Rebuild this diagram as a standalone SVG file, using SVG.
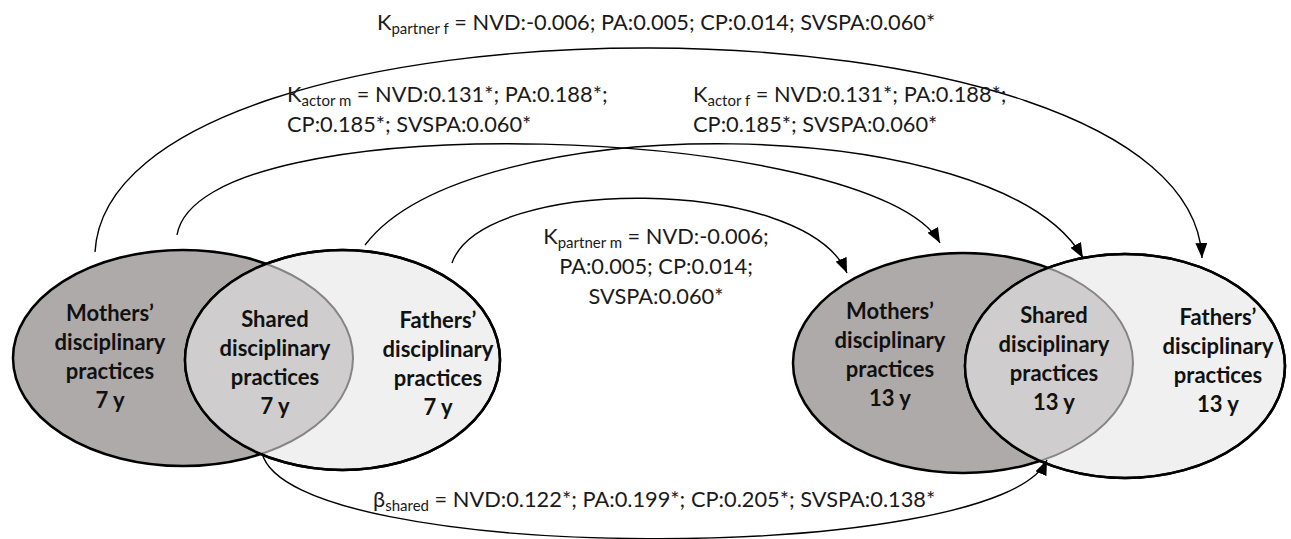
<svg xmlns="http://www.w3.org/2000/svg" xmlns:xlink="http://www.w3.org/1999/xlink" width="1291" height="539" viewBox="0 0 1291 539">
<style>
.lbl{font-family:Lato,"Liberation Sans",sans-serif;font-size:21.8px;fill:#1a1a1a}
.sub{font-size:15px}
.node{font-family:Lato,"Liberation Sans",sans-serif;font-size:22px;font-weight:bold;fill:#111;text-anchor:middle}
.mom{fill:#aeaaaa;stroke:#000;stroke-width:2.5}
.dad{fill:#f0f0f0;stroke:#000;stroke-width:2.5}
.shr{fill:#cfcdcd;stroke:#858585;stroke-width:2}
.outl{fill:none;stroke:#000;stroke-width:2.5}
.con{fill:none;stroke:#000;stroke-width:1.4;marker-end:url(#arr)}
</style>
<defs>
<marker id="arr" markerUnits="userSpaceOnUse" markerWidth="16" markerHeight="12" refX="15" refY="6" orient="auto">
<path d="M0,0 L15,6 L0,12 z" fill="#000"/>
</marker>
<ellipse id="m7" cx="183" cy="358" rx="170" ry="108"/>
<ellipse id="f7" cx="342.5" cy="360" rx="157.5" ry="110"/>
<ellipse id="m13" cx="963" cy="363" rx="170" ry="110"/>
<ellipse id="f13" cx="1125" cy="366" rx="160" ry="112"/>
<clipPath id="cf7"><use xlink:href="#f7"/></clipPath>
<clipPath id="cf13"><use xlink:href="#f13"/></clipPath>
</defs>
<rect width="1291" height="539" fill="#fff"/>

<g id="mothers-7y">
<use xlink:href="#m7" class="mom"/>
<text class="node" x="110"><tspan x="110" y="321">Mothers’</tspan><tspan x="110" y="350">disciplinary</tspan><tspan x="110" y="379">practices</tspan><tspan x="110" y="408">7 y</tspan></text>
</g>
<g id="fathers-7y">
<use xlink:href="#f7" class="dad"/>
<text class="node" x="438"><tspan x="438" y="328">Fathers’</tspan><tspan x="438" y="357">disciplinary</tspan><tspan x="438" y="386">practices</tspan><tspan x="438" y="415">7 y</tspan></text>
</g>
<g id="shared-7y">
<use xlink:href="#m7" class="shr" clip-path="url(#cf7)"/>
<use xlink:href="#f7" class="outl"/>
<text class="node" x="275"><tspan x="275" y="327">Shared</tspan><tspan x="275" y="356">disciplinary</tspan><tspan x="275" y="385">practices</tspan><tspan x="275" y="414">7 y</tspan></text>
</g>

<g id="mothers-13y">
<use xlink:href="#m13" class="mom"/>
<text class="node" x="890"><tspan x="890" y="319">Mothers’</tspan><tspan x="890" y="348">disciplinary</tspan><tspan x="890" y="377">practices</tspan><tspan x="890" y="406">13 y</tspan></text>
</g>
<g id="fathers-13y">
<use xlink:href="#f13" class="dad"/>
<text class="node" x="1218"><tspan x="1218" y="325">Fathers’</tspan><tspan x="1218" y="354">disciplinary</tspan><tspan x="1218" y="383">practices</tspan><tspan x="1218" y="412">13 y</tspan></text>
</g>
<g id="shared-13y">
<use xlink:href="#m13" class="shr" clip-path="url(#cf13)"/>
<use xlink:href="#f13" class="outl"/>
<text class="node" x="1054"><tspan x="1054" y="323">Shared</tspan><tspan x="1054" y="352">disciplinary</tspan><tspan x="1054" y="381">practices</tspan><tspan x="1054" y="410">13 y</tspan></text>
</g>

<g id="connectors">
<path class="con" d="M95,252 C110,-21 1190,-21 1202,258"/>
<path class="con" d="M177,235 C200,100 875,125 940,243"/>
<path class="con" d="M365,245 C470,106 1000,110 1083,258"/>
<path class="con" d="M452,263 C482,175 805,175 847,273"/>
<path class="con" d="M262,453 C290,566 1000,566 1047,460"/>
</g>

<g id="labels">
<text class="lbl" x="377" y="30">K<tspan class="sub" dy="4">partner f</tspan><tspan dy="-4"> = NVD:-0.006; PA:0.005; CP:0.014; SVSPA:0.060*</tspan></text>
<text class="lbl" x="287" y="102">K<tspan class="sub" dy="4">actor m</tspan><tspan dy="-4"> = NVD:0.131*; PA:0.188*;</tspan></text>
<text class="lbl" x="287" y="132">CP:0.185*; SVSPA:0.060*</text>
<text class="lbl" x="693" y="102">K<tspan class="sub" dy="4">actor f</tspan><tspan dy="-4"> = NVD:0.131*; PA:0.188*;</tspan></text>
<text class="lbl" x="693" y="132">CP:0.185*; SVSPA:0.060*</text>
<text class="lbl" x="656" y="244" text-anchor="middle">K<tspan class="sub" dy="4">partner m</tspan><tspan dy="-4"> = NVD:-0.006;</tspan></text>
<text class="lbl" x="656" y="274" text-anchor="middle">PA:0.005; CP:0.014;</text>
<text class="lbl" x="656" y="304" text-anchor="middle">SVSPA:0.060*</text>
<text class="lbl" x="373" y="507">β<tspan class="sub" dy="4">shared</tspan><tspan dy="-4"> = NVD:0.122*; PA:0.199*; CP:0.205*; SVSPA:0.138*</tspan></text>
</g>
</svg>
